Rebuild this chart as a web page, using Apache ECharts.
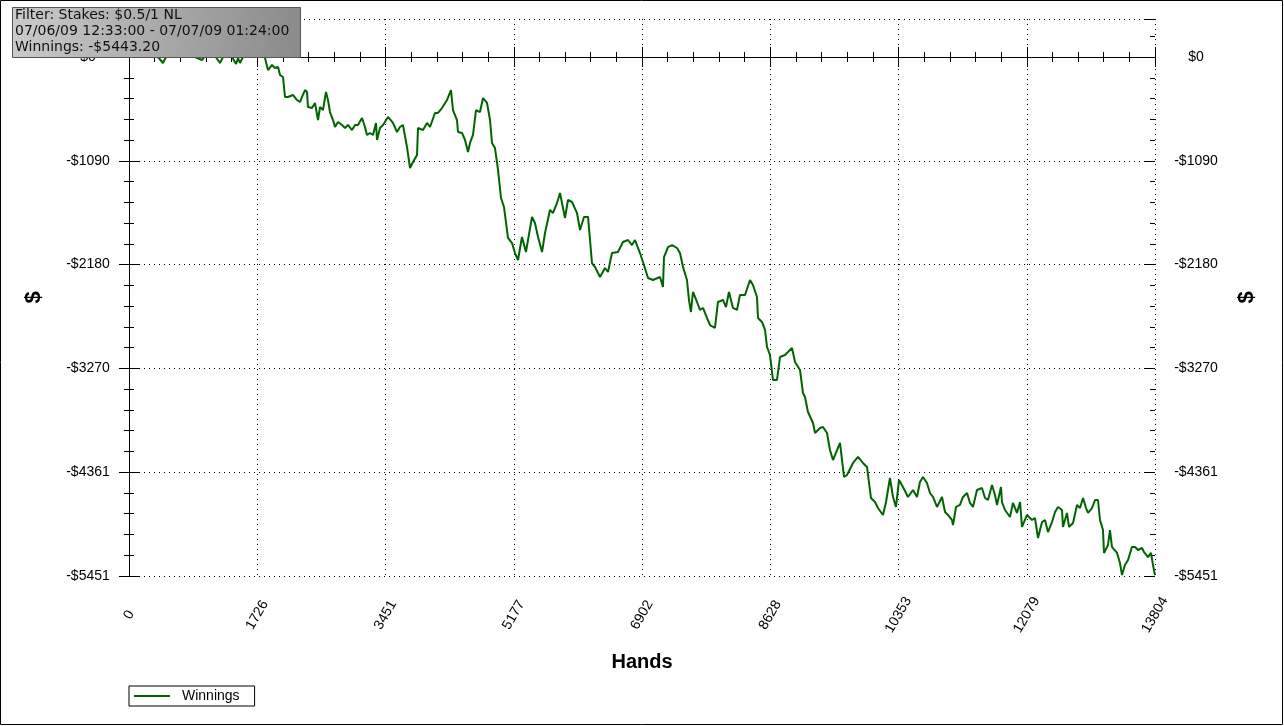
<!DOCTYPE html>
<html>
<head>
<meta charset="utf-8">
<script src="https://cdn.jsdelivr.net/npm/echarts@6/dist/echarts.min.js"></script>
<style>
html,body{margin:0;padding:0;background:#fff;}
#chart{width:1284px;height:726px;}
</style>
</head>
<body>
<div id="chart"></div>
<script>
const seriesName = 'Winnings';
const hands = [0,148,283,390,457,498,619,753,888,982,1023,1157,1224,1265,1386,1440,1467,1493,1534,1655,1789,1830,1870,1924,1964,2005,2032,2072,2099,2139,2206,2260,2301,2328,2368,2395,2408,2462,2502,2543,2570,2610,2650,2677,2704,2745,2772,2812,2866,2906,2946,3000,3041,3081,3135,3175,3202,3242,3283,3323,3337,3377,3417,3485,3552,3606,3646,3686,3740,3781,3821,3875,3888,3956,4009,4050,4117,4157,4211,4278,4332,4359,4413,4426,4480,4521,4561,4588,4628,4669,4722,4763,4817,4857,4884,4924,4965,5005,5045,5099,5153,5193,5234,5287,5341,5422,5462,5503,5557,5597,5664,5705,5759,5799,5866,5906,5960,6027,6068,6122,6176,6229,6270,6337,6404,6445,6498,6579,6646,6714,6767,6808,6875,6915,6983,7050,7144,7184,7198,7252,7306,7373,7413,7454,7507,7534,7561,7588,7642,7682,7723,7776,7817,7884,7924,7992,8032,8072,8126,8180,8220,8288,8355,8395,8449,8463,8516,8557,8584,8624,8664,8718,8759,8826,8866,8920,8961,9028,9068,9095,9135,9203,9230,9297,9337,9391,9431,9472,9526,9566,9620,9660,9741,9808,9875,9929,9983,10037,10077,10144,10185,10211,10238,10279,10319,10360,10413,10481,10548,10602,10642,10683,10736,10777,10817,10871,10938,10979,11019,11073,11086,11127,11180,11221,11275,11315,11355,11409,11476,11517,11557,11611,11651,11678,11732,11745,11786,11853,11893,11947,11988,12015,12082,12149,12189,12230,12284,12324,12364,12418,12459,12499,12553,12566,12620,12647,12701,12755,12795,12836,12876,12903,12956,12997,13037,13064,13104,13118,13172,13198,13225,13293,13333,13360,13400,13441,13494,13535,13575,13629,13656,13710,13750,13777,13804];
const winnings = [0,11,21,0,-63,0,21,11,0,-32,11,11,-63,0,0,-74,-11,-63,0,21,32,-11,-137,-84,-116,-105,-189,-210,-420,-420,-399,-452,-473,-420,-347,-368,-525,-536,-483,-662,-525,-557,-368,-452,-578,-662,-735,-683,-714,-746,-714,-767,-714,-714,-641,-735,-819,-798,-819,-693,-872,-746,-714,-630,-693,-788,-735,-714,-945,-1166,-1103,-1029,-746,-767,-693,-735,-588,-588,-536,-452,-347,-557,-662,-788,-798,-872,-998,-903,-819,-557,-578,-431,-483,-662,-903,-956,-1187,-1481,-1575,-1901,-1954,-2059,-2132,-1891,-2048,-1680,-1743,-1891,-2048,-1849,-1607,-1638,-1533,-1428,-1691,-1502,-1523,-1638,-1817,-1680,-1680,-2164,-2206,-2311,-2216,-2258,-2059,-2048,-1943,-1922,-1975,-1922,-2059,-2153,-2321,-2342,-2311,-2416,-2101,-1996,-1975,-2006,-2059,-2206,-2342,-2552,-2678,-2468,-2573,-2657,-2636,-2741,-2815,-2846,-2573,-2552,-2626,-2468,-2636,-2657,-2500,-2500,-2342,-2395,-2521,-2741,-2783,-2867,-3046,-3130,-3392,-3392,-3151,-3130,-3098,-3056,-3203,-3287,-3529,-3571,-3729,-3844,-3949,-3897,-3886,-3949,-4128,-4233,-4128,-4054,-4411,-4390,-4264,-4201,-4264,-4306,-4632,-4674,-4737,-4810,-4674,-4684,-4422,-4621,-4726,-4443,-4516,-4621,-4548,-4621,-4464,-4411,-4474,-4579,-4621,-4726,-4621,-4779,-4810,-4863,-4915,-4726,-4705,-4621,-4579,-4684,-4726,-4548,-4527,-4632,-4653,-4495,-4600,-4705,-4516,-4674,-4758,-4831,-4684,-4789,-4674,-4936,-4810,-4863,-4842,-5052,-4884,-4863,-4989,-4884,-4779,-4726,-4758,-4936,-4789,-4936,-4894,-4705,-4737,-4632,-4737,-4789,-4737,-4653,-4653,-4863,-4968,-5209,-5125,-4968,-5146,-5209,-5315,-5441,-5336,-5283,-5146,-5146,-5178,-5157,-5199,-5252,-5209,-5336,-5443.2];
const xTickValues = [0,1725.5,3451,5176.5,6902,8627.5,10353,12078.5,13804];
const xTickLabels = ['0','1726','3451','5177','6902','8628','10353','12079','13804'];
const yTickValues = [-5451,-4360.8,-3270.6,-2180.4,-1090.2,0];
const yTickLabels = ['-$5451','-$4361','-$3270','-$2180','-$1090','$0'];
const infoLines = ['Filter: Stakes: $0.5/1 NL','07/06/09 12:33:00 - 07/07/09 01:24:00','Winnings: -$5443.20'];

const X_MIN = 0, X_MAX = 13804, X_INT = 1725.5;
const Y_MIN = -5451, Y_MAX = 399, Y_INT = 1090.2;

function pick(vals, labels, v){
  for (let i=0;i<vals.length;i++){ if (Math.abs(vals[i]-v) < 1) return labels[i]; }
  return '';
}
const AXIS_FONT = 'Liberation Sans, Arial, sans-serif';
const INFO_FONT = '14px "DejaVu Sans", Verdana, sans-serif';
const dotted = {color:'#000', width:1, type:[1,4]};

function xAx(extra){
  return Object.assign({
    type:'value', gridIndex:0, min:X_MIN, max:X_MAX, interval:X_INT,
    axisLine:{show:false, lineStyle:{color:'#000', width:1}},
    axisTick:{show:true, inside:false, length:10, lineStyle:{color:'#000', width:1}},
    minorTick:{show:true, splitNumber:5, length:5, lineStyle:{color:'#000', width:1}},
    axisLabel:{show:false},
    splitLine:{show:false}, minorSplitLine:{show:false}
  }, extra);
}
function yAx(extra){
  return Object.assign({
    type:'value', gridIndex:0, min:Y_MIN, max:Y_MAX, interval:Y_INT,
    axisLine:{show:false, lineStyle:{color:'#000', width:1}},
    axisTick:{show:true, inside:false, length:10, lineStyle:{color:'#000', width:1}},
    minorTick:{show:true, splitNumber:5, length:5, lineStyle:{color:'#000', width:1}},
    axisLabel:{show:false},
    splitLine:{show:false}, minorSplitLine:{show:false}
  }, extra);
}

const chart = echarts.init(document.getElementById('chart'), null, {renderer:'canvas'});
chart.setOption({
  animation:false,
  backgroundColor:'#fff',
  grid:{left:129, right:129, top:19, bottom:150, containLabel:false, outerBoundsMode:'none'},
  legend:{
    show:true, left:129, top:686, orient:'horizontal',
    padding:[3,15,3,5], itemGap:10, itemWidth:36, itemHeight:2,
    borderColor:'#000', borderWidth:1, backgroundColor:'#fff',
    icon:'rect',
    textStyle:{fontFamily:AXIS_FONT, fontSize:14, color:'#000', padding:[0,2,0,7]},
    data:[{name:seriesName, icon:'rect', itemStyle:{color:'#006400'}}]
  },
  xAxis:[
    xAx({position:'bottom',
      axisLine:{show:true, lineStyle:{color:'#000', width:1}},
      splitLine:{show:true, lineStyle:dotted},
      name:'Hands', nameLocation:'middle', nameGap:76,
      nameTextStyle:{fontFamily:AXIS_FONT, fontSize:20, fontWeight:'bold', color:'#000'},
      axisLabel:{show:true, rotate:60, align:'center', verticalAlign:'middle', margin:39,
        fontFamily:AXIS_FONT, fontSize:14, color:'#000', hideOverlap:false,
        showMinLabel:true, showMaxLabel:true,
        formatter:function(v){return pick(xTickValues, xTickLabels, v);}}
    }),
    xAx({position:'bottom', axisTick:{show:true, inside:true, length:10, lineStyle:{color:'#000', width:1}}}),
    xAx({position:'top', axisLine:{show:true, lineStyle:{color:'#000', width:1}},
      axisTick:{show:true, inside:true, length:10, lineStyle:{color:'#000', width:1}}})
  ],
  yAxis:[
    yAx({position:'left',
      axisLine:{show:true, lineStyle:{color:'#000', width:1}},
      splitLine:{show:true, lineStyle:dotted},
      name:'$', nameLocation:'middle', nameGap:84,
      nameTextStyle:{fontFamily:AXIS_FONT, fontSize:22, fontWeight:'bold', color:'#000'},
      axisLabel:{show:true, align:'center', margin:41, fontFamily:AXIS_FONT, fontSize:14, color:'#000',
        hideOverlap:false, showMaxLabel:false,
        formatter:function(v){return pick(yTickValues, yTickLabels, v);}}
    }),
    yAx({position:'left', axisTick:{show:true, inside:true, length:10, lineStyle:{color:'#000', width:1}}}),
    yAx({position:'right',
      axisLine:{show:true, lineStyle:{color:'#000', width:1}},
      name:'$', nameLocation:'middle', nameGap:81,
      nameTextStyle:{fontFamily:AXIS_FONT, fontSize:22, fontWeight:'bold', color:'#000'},
      axisLabel:{show:true, align:'center', margin:41, fontFamily:AXIS_FONT, fontSize:14, color:'#000',
        hideOverlap:false, showMaxLabel:false,
        formatter:function(v){return pick(yTickValues, yTickLabels, v);}}
    }),
    yAx({position:'right', axisTick:{show:true, inside:true, length:10, lineStyle:{color:'#000', width:1}}})
  ],
  series:[{
    name:seriesName, type:'line', xAxisIndex:0, yAxisIndex:0,
    data:hands.map(function(h,i){return [h, winnings[i]];}),
    showSymbol:false, symbol:'none', smooth:false,
    lineStyle:{color:'#006400', width:2},
    itemStyle:{color:'#006400'},
    z:3,
    markLine:{silent:true, symbol:['none','none'], label:{show:false},
      lineStyle:{color:'#000', width:1, type:'solid'},
      data:[{yAxis:0}]}
  }],
  graphic:[
    {type:'rect', z:100, silent:true, shape:{x:1156, y:16, width:14, height:6}, style:{fill:'#fff'}},
    {type:'rect', z:100, shape:{x:12.5, y:7.5, width:288, height:50},
      style:{fill:new echarts.graphic.LinearGradient(0,0,1,0.6,[{offset:0,color:'#cbcbcb'},{offset:1,color:'#8a8a8a'}]),
        stroke:'#555', lineWidth:1}},
    {type:'text', z:101, left:15, top:8, style:{text:infoLines[0], font:INFO_FONT, fill:'#111'}},
    {type:'text', z:101, left:15, top:24, style:{text:infoLines[1], font:INFO_FONT, fill:'#111'}},
    {type:'text', z:101, left:15, top:40, style:{text:infoLines[2], font:INFO_FONT, fill:'#111'}},
    {type:'rect', z:100, silent:true, shape:{x:0.5, y:0.5, width:1282, height:724}, style:{fill:'none', stroke:'#000', lineWidth:1}}
  ]
});
</script>
</body>
</html>
